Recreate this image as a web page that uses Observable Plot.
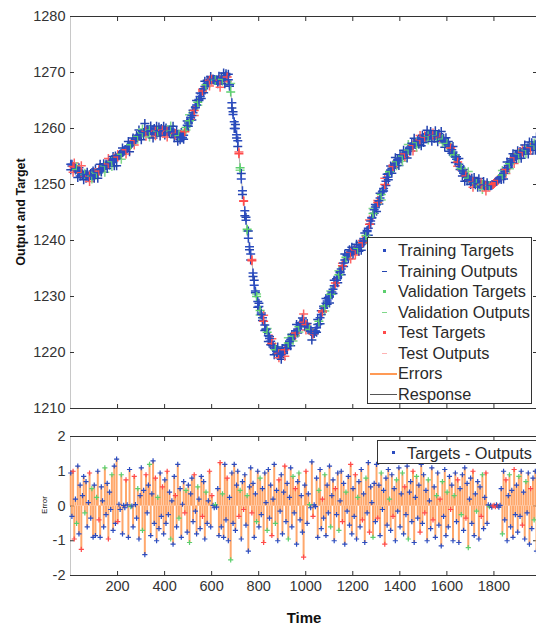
<!DOCTYPE html>
<html>
<head>
<meta charset="utf-8">
<script src="https://cdn.jsdelivr.net/npm/d3@7"></script>
<script src="https://cdn.jsdelivr.net/npm/@observablehq/plot@0.6"></script>
<style>
  html, body { margin: 0; padding: 0; background: #fff; }
  body { width: 536px; height: 627px; overflow: hidden; position: relative; font-family: "Liberation Sans", Arial, sans-serif; }
  #top, #bot { position: absolute; left: 0; }
  #top { top: 0; }
  #bot { top: 420px; }
  .rot { position: absolute; white-space: nowrap; transform: translate(-50%, -50%) rotate(-90deg); color: #111; }
  .legend { position: absolute; background: #fff; border: 1px solid #333; box-sizing: border-box; }
  .item { position: absolute; white-space: nowrap; font-size: 16.3px; color: #2a2a2a; line-height: 1; }
  .sw { position: absolute; }
</style>
</head>
<body>
<div id="top"></div>
<div id="bot"></div>
<script>
// ---------- data ----------
// Targets, one value every 5 time steps starting at t = 1
const targetValues = [
  1253.6,1253.3,1253.2,1252.9,1252.8,1252.7,1252.4,1252.2,1252.1,1252.1,1251.9,1251.7,1251.8,1251.8,1251.6,1251.4,1251.5,1251.6,1251.5,1251.5,
  1251.7,1251.9,1252.0,1252.1,1252.4,1252.7,1252.8,1252.9,1253.1,1253.3,1253.4,1253.5,1253.7,1253.9,1254.0,1254.1,1254.3,1254.5,1254.6,1254.7,
  1254.9,1255.2,1255.3,1255.4,1255.7,1256.0,1256.1,1256.2,1256.5,1256.8,1256.9,1257.1,1257.4,1257.7,1257.9,1258.1,1258.4,1258.6,1258.8,1258.9,
  1259.1,1259.2,1259.3,1259.5,1259.5,1259.6,1259.6,1259.7,1259.6,1259.5,1259.6,1259.5,1259.5,1259.4,1259.5,1259.6,1259.6,1259.7,1259.7,1259.6,
  1259.6,1259.6,1259.5,1259.4,1259.5,1259.5,1259.4,1259.3,1259.2,1259.1,1259.0,1258.9,1258.7,1258.5,1258.4,1258.4,1258.8,1259.4,1260.2,1260.6,
  1261.0,1261.4,1261.9,1262.3,1262.8,1263.2,1263.7,1264.2,1264.7,1265.2,1265.7,1266.2,1266.7,1267.1,1267.5,1267.8,1268.1,1268.4,1268.6,1268.7,
  1268.8,1268.8,1268.7,1268.6,1268.6,1268.5,1268.5,1268.6,1268.6,1268.8,1269.0,1269.2,1269.4,1269.2,1268.7,1267.8,1266.5,1264.6,1262.5,1261.2,
  1260.0,1258.9,1257.8,1255.5,1253.0,1251.0,1248.9,1247.0,1245.3,1243.6,1242.0,1240.4,1238.9,1237.6,1236.4,1234.2,1232.0,1231.0,1230.0,1229.1,
  1228.2,1227.5,1226.8,1226.2,1225.6,1224.9,1224.2,1223.6,1223.0,1222.5,1222.0,1221.6,1221.2,1220.8,1220.5,1220.2,1220.0,1219.8,1219.7,1219.7,
  1219.9,1220.2,1220.5,1220.9,1221.3,1221.7,1222.0,1222.3,1222.6,1222.9,1223.2,1223.5,1223.9,1224.2,1224.6,1224.9,1225.2,1225.4,1225.4,1225.2,
  1225.0,1224.7,1224.4,1224.1,1223.8,1223.5,1223.3,1223.4,1223.8,1224.4,1225.0,1225.6,1226.2,1226.8,1227.4,1227.9,1228.3,1228.8,1229.2,1229.6,
  1230.0,1230.4,1230.8,1231.3,1231.9,1232.4,1232.9,1233.4,1233.9,1234.4,1234.9,1235.5,1236.0,1236.5,1237.0,1237.3,1237.6,1237.8,1237.9,1238.0,
  1238.1,1238.2,1238.3,1238.4,1238.6,1238.8,1239.1,1239.3,1239.6,1239.9,1240.3,1240.9,1241.6,1242.2,1242.9,1243.5,1244.1,1244.8,1245.5,1246.0,
  1246.4,1246.8,1247.1,1247.6,1248.2,1248.7,1249.3,1250.0,1250.6,1251.3,1251.9,1252.3,1252.6,1252.9,1253.2,1253.5,1253.8,1254.1,1254.3,1254.5,
  1254.7,1254.9,1255.1,1255.3,1255.5,1255.7,1255.9,1256.2,1256.4,1256.7,1256.9,1257.0,1257.2,1257.4,1257.5,1257.7,1257.8,1258.0,1258.1,1258.3,
  1258.4,1258.5,1258.6,1258.7,1258.7,1258.8,1258.8,1258.8,1258.8,1258.8,1258.7,1258.7,1258.6,1258.5,1258.4,1258.3,1258.1,1257.9,1257.7,1257.5,
  1257.3,1257.1,1256.8,1256.5,1256.2,1255.8,1255.3,1254.9,1254.5,1254.0,1253.6,1253.2,1252.8,1252.4,1252.0,1251.7,1251.5,1251.3,1251.1,1250.9,
  1250.8,1250.6,1250.5,1250.4,1250.3,1250.2,1250.2,1250.1,1250.1,1250.0,1250.0,1249.9,1249.9,1249.8,1249.8,1249.8,1249.8,1249.8,1249.9,1250.0,
  1250.2,1250.4,1250.6,1250.8,1251.0,1251.2,1251.4,1251.7,1252.0,1252.3,1252.7,1253.0,1253.4,1253.7,1254.0,1254.3,1254.6,1254.8,1255.0,1255.2,
  1255.3,1255.5,1255.6,1255.7,1255.8,1256.0,1256.1,1256.2,1256.3,1256.4,1256.5,1256.6,1256.8,1256.9,1257.0,1257.1,1257.2
];
// Errors (targets - outputs), one value every 5 time steps starting at t = 1
const errorValues = [
  0.95,-0.3,1.0,-0.95,0.2,-0.5,1.15,-0.8,0.6,-1.25,0.3,0.85,-0.2,0.7,-0.6,0.1,0.95,-0.35,0.5,-0.9,
  0.6,-0.85,0.25,1.0,-0.4,-0.9,0.55,0.15,-0.6,1.1,-0.25,0.65,-0.95,0.4,-0.1,0.9,-0.7,1.15,-0.5,1.35,
  -0.45,0.05,-0.1,0.9,-0.8,0.02,-0.05,0.75,0.03,-0.9,1.05,-0.02,0.0,-0.6,0.85,0.04,-0.35,0.5,-0.95,0.3,
  1.1,-0.7,0.45,-1.4,0.9,-0.2,0.6,1.2,-0.85,0.35,1.3,-0.5,0.8,-1.0,0.25,-0.65,0.95,-0.3,0.55,-0.8,
  0.75,-0.5,1.0,-0.25,0.4,-0.95,0.15,-1.1,0.85,0.3,-0.6,1.2,-0.35,0.5,-0.9,0.05,0.7,-0.2,0.45,-0.75,
  0.6,-1.05,0.35,0.8,-0.45,0.9,-0.15,-0.8,0.55,0.2,-0.65,0.85,-0.3,0.7,-0.95,0.4,-0.5,0.15,1.0,-0.6,
  0.3,0.02,-0.05,0.04,-0.03,0.5,-0.85,1.25,-0.6,0.35,-0.9,1.2,-0.4,0.8,-1.0,0.25,-1.55,0.95,-0.5,1.2,
  -0.7,0.6,1.0,-0.3,0.45,-0.95,0.7,-0.1,0.9,-0.55,0.3,-1.3,0.55,1.1,-0.2,0.65,-0.9,0.35,-0.45,1.0,
  -0.6,0.8,-0.25,0.5,-1.05,0.95,0.1,-0.7,1.05,-0.35,0.6,-0.85,0.2,1.2,-0.5,0.45,-1.0,0.75,-0.15,0.9,
  -0.8,0.4,1.15,-0.45,0.65,-0.95,0.25,1.1,-0.6,0.85,-0.2,0.5,-1.1,0.7,0.95,-0.4,0.3,-0.75,-1.47,0.6,
  1.0,-0.5,0.35,0.04,-0.05,1.27,-0.3,0.03,-0.02,0.8,-0.9,0.45,1.05,-0.65,0.2,-0.35,0.9,-0.85,0.6,-0.2,
  1.15,-0.6,0.3,0.75,-1.0,0.5,-0.25,0.95,-0.7,0.15,1.0,-0.45,0.65,-1.1,0.4,-0.15,0.85,-0.55,1.2,-0.8,
  0.5,-0.3,0.9,-0.95,0.25,0.7,-0.6,1.05,-0.4,0.35,-1.05,0.8,-0.2,1.25,-0.75,0.55,0.1,-0.9,0.65,-0.45,
  1.2,-0.35,0.6,-0.85,0.95,-0.1,0.45,-1.1,0.8,-0.55,1.05,0.2,-0.7,0.9,-0.3,0.5,-1.0,0.75,-0.15,1.1,
  -0.6,0.35,0.95,-0.8,0.55,-0.25,1.15,-0.95,0.4,0.7,-0.45,1.0,-1.05,0.25,0.85,-0.35,0.6,-0.75,1.2,-0.5,
  0.9,-0.2,0.45,-1.0,0.75,0.15,-0.65,1.1,-0.4,0.55,-0.9,0.3,0.95,-0.55,0.2,-1.15,0.7,-0.3,1.05,-0.85,
  0.4,-0.6,0.85,-0.1,0.6,-1.0,0.3,0.95,-0.45,0.75,-1.05,0.5,-0.25,0.9,-0.7,1.1,-0.35,0.65,-1.2,0.2,
  0.8,-0.5,1.0,-0.85,0.35,-0.15,0.7,-0.95,0.55,-0.3,0.9,-0.65,0.25,0.95,-0.5,0.03,-0.02,0.02,-0.03,0.0,
  0.02,-0.02,0.03,0.0,-0.03,0.02,0.5,-0.8,1.0,-0.4,0.75,-1.0,0.3,0.9,-0.6,0.45,-0.9,1.05,-0.25,0.6,
  -0.75,0.85,-0.3,1.0,-0.55,0.4,-0.95,0.7,-0.2,0.95,-1.1,0.5,-0.65,0.8,-0.4,1.0,-1.3
];
// Data split of each sample: t = training, v = validation, e = test
const setCodes = (
  "tteetvtttettvtttetvt" + "ttvtettttvttettvtttt" + "ettvtttetttvttettvtt" + "tvttettvttttetvtttet" +
  "ttettvtttettvttttevt" + "tvtttettvtttettvttet" + "ettvtttetvtttettvttt" + "tttevttettvtttetttvt" +
  "tvttettvtttettvttett" + "ttettvtttvtettvtttet" + "ettvttettttvttetvttt" + "tvtttettvttettvtttet" +
  "ttetvtttettvttettvtt" + "tettvttetttvttettvtt" + "ttvtettvtttettvttett" + "tettvtttettvttetvttt" +
  "vttettvttettvtttetvt" + "ttettvtttevttettvtte" + "eetetttvttettvtttett" + "tvttettvtttettvtt"
);
const xTicks = [200, 400, 600, 800, 1000, 1200, 1400, 1600, 1800];
const yTicksTop = [1210, 1220, 1230, 1240, 1250, 1260, 1270, 1280];
const yTicksErr = [-2, -1, 0, 1, 2];
const legendTopLabels = ["Training Targets", "Training Outputs", "Validation Targets", "Validation Outputs",
                         "Test Targets", "Test Outputs", "Errors", "Response"];
const legendErrLabel = "Targets - Outputs";

// ---------- styles ----------
const targetColor = {t: "#2b4cc0", v: "#5ccf6e", e: "#ff4a4a"};
const outputColor = {t: "#2444b0", v: "#7fd88a", e: "#ff6464"};
const errorStroke = "#ff9f5c";

// ---------- derived tables ----------
const data = targetValues.map((target, i) => ({
  t: 1 + 5 * i, target, err: errorValues[i], output: target - errorValues[i], set: setCodes[i]
}));

const xDomain = [0, 1981];
const W = 536;
const common = {
  width: W, marginLeft: 70, marginRight: 0,
  style: {fontFamily: "Liberation Sans, Arial, sans-serif", fontSize: "14.5px", color: "#333", background: "transparent", overflow: "visible"}
};
const fmt = d => String(d);
const blank = () => "";

const topPlot = Plot.plot({
  ...common,
  height: 420, marginTop: 16, marginBottom: 12,
  x: {domain: xDomain},
  y: {domain: [1210, 1280]},
  color: {type: "identity"},
  marks: [
    Plot.ruleX([xDomain[0]], {stroke: "#c8c8c8"}),
    Plot.ruleY([1280], {stroke: "#333"}),
    Plot.ruleY([1210], {stroke: "#333"}),
    Plot.axisY({ticks: yTicksTop, tickSize: -4, tickPadding: 9, tickFormat: fmt, label: null, stroke: "#333"}),
    Plot.axisY({anchor: "right", ticks: yTicksTop, tickSize: -4, tickFormat: blank, label: null, stroke: "#333"}),
    Plot.axisX({anchor: "top", ticks: xTicks, tickSize: -4, tickFormat: blank, label: null, stroke: "#333"}),
    Plot.axisX({anchor: "bottom", ticks: xTicks, tickSize: -4, tickFormat: blank, label: null, stroke: "#333"}),
    Plot.line(data, {x: "t", y: "target", stroke: "#222", strokeWidth: 0.6, strokeOpacity: 0.6}),
    Plot.dot(data, {x: "t", y: "output", symbol: "plus", stroke: d => outputColor[d.set], r: 3, strokeWidth: 1.5}),
    Plot.dot(data, {x: "t", y: "target", symbol: "plus", stroke: d => targetColor[d.set], r: 3, strokeWidth: 1.5})
  ]
});
document.getElementById("top").appendChild(topPlot);

const botPlot = Plot.plot({
  ...common,
  height: 207, marginTop: 16, marginBottom: 52,
  x: {domain: xDomain},
  y: {domain: [-2, 2]},
  color: {type: "identity"},
  marks: [
    Plot.ruleX([xDomain[0]], {stroke: "#c8c8c8"}),
    Plot.ruleY([2], {stroke: "#333"}),
    Plot.ruleY([-2], {stroke: "#333"}),
    Plot.axisY({ticks: yTicksErr, tickSize: -4, tickPadding: 9, tickFormat: fmt, label: null, stroke: "#333"}),
    Plot.axisY({anchor: "right", ticks: yTicksErr, tickSize: -4, tickFormat: blank, label: null, stroke: "#333"}),
    Plot.axisX({anchor: "top", ticks: xTicks, tickSize: -4, tickFormat: blank, label: null, stroke: "#333"}),
    Plot.axisX({anchor: "bottom", ticks: xTicks, tickSize: -4, tickPadding: 9, tickFormat: fmt, label: null, stroke: "#333"}),
    Plot.ruleX(data, {x: "t", y1: 0, y2: "err", stroke: errorStroke, strokeWidth: 2, strokeOpacity: 0.9}),
    Plot.dot(data, {x: "t", y: "err", symbol: "plus", stroke: d => targetColor[d.set], r: 1.8, strokeWidth: 1.2})
  ]
});
document.getElementById("bot").appendChild(botPlot);

// ---------- titles ----------
function addText(text, css, cls) {
  const el = document.createElement("div");
  if (cls) el.className = cls;
  el.textContent = text;
  Object.assign(el.style, css);
  document.body.appendChild(el);
  return el;
}
addText("Output and Target", {left: "21px", top: "212px", fontSize: "12.5px", fontWeight: "bold"}, "rot");
addText("Error", {left: "44px", top: "505px", fontSize: "8px"}, "rot");
addText("Time", {position: "absolute", left: "304px", top: "609px", transform: "translateX(-50%)", fontSize: "15px", fontWeight: "bold", color: "#111"});

// ---------- legends ----------
const lg = document.createElement("div");
lg.className = "legend";
Object.assign(lg.style, {left: "367px", top: "237px", width: "165px", height: "167px"});
document.body.appendChild(lg);
const swatches = [
  {kind: "dot", color: targetColor.t}, {kind: "dash", color: outputColor.t},
  {kind: "dot", color: targetColor.v}, {kind: "dash", color: outputColor.v},
  {kind: "dot", color: targetColor.e}, {kind: "dash", color: "#ffb3b3"},
  {kind: "line", color: "#ff9a55"}, {kind: "line", color: "#555"}
];
legendTopLabels.forEach((label, i) => {
  const cy = 12.5 + i * 20.5;
  const it = document.createElement("div");
  it.className = "item";
  it.textContent = label;
  Object.assign(it.style, {left: "30px", top: (cy - 8.5) + "px"});
  lg.appendChild(it);
  const s = document.createElement("div");
  s.className = "sw";
  const sw = swatches[i];
  if (sw.kind === "dot") Object.assign(s.style, {left: "15px", top: (cy - 1.5) + "px", width: "3px", height: "3px", background: sw.color});
  else if (sw.kind === "dash") Object.assign(s.style, {left: "14px", top: (cy - 0.5) + "px", width: "5px", height: "1.5px", background: sw.color});
  else Object.assign(s.style, {left: "2px", top: (cy - 0.5) + "px", width: "27px", height: "1.5px", background: sw.color});
  lg.appendChild(s);
});

const lg2 = document.createElement("div");
lg2.className = "legend";
Object.assign(lg2.style, {left: "377px", top: "440px", width: "170px", height: "24px"});
document.body.appendChild(lg2);
const it2 = document.createElement("div");
it2.className = "item";
it2.textContent = legendErrLabel;
Object.assign(it2.style, {left: "29px", top: "3.5px"});
lg2.appendChild(it2);
const d2 = document.createElement("div");
d2.className = "sw";
Object.assign(d2.style, {left: "14px", top: "10px", width: "3px", height: "3px", background: targetColor.t});
lg2.appendChild(d2);
</script>
</body>
</html>
